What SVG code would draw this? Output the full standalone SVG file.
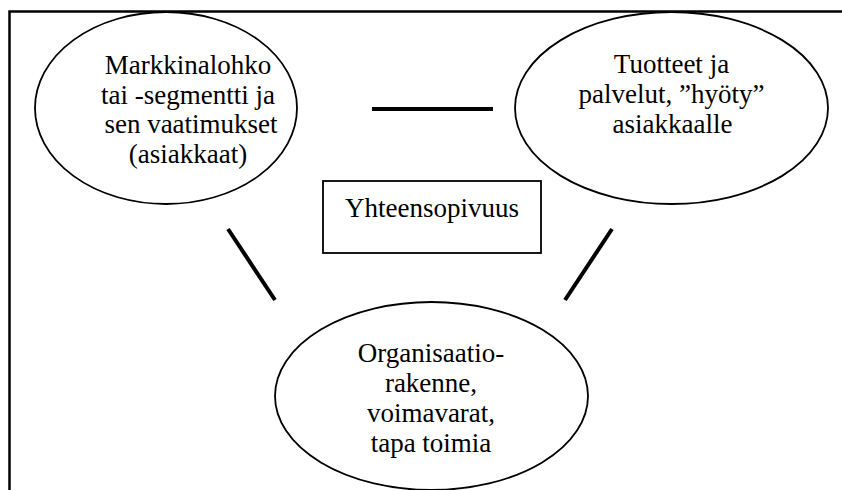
<svg xmlns="http://www.w3.org/2000/svg" width="842" height="490" viewBox="0 0 842 490">
<style>
.frame{stroke:#000;stroke-width:2.5;fill:none}
.node{fill:#fff;stroke:#000;stroke-width:1.8}
.conn{stroke:#000;stroke-width:4;stroke-linecap:butt}
.t{font-family:'Liberation Serif','Times New Roman',Times,serif;font-size:27px;fill:#000;text-anchor:middle}
</style>
<rect width="842" height="490" fill="#fff"/>
<path class="frame" d="M9.5 490 V11.5 H842"/>
<g id="connectors">
<line class="conn" x1="372" y1="109" x2="493" y2="109"/>
<line class="conn" x1="228" y1="229" x2="275" y2="300"/>
<line class="conn" x1="612" y1="229" x2="565" y2="300"/>
</g>
<g id="node-markkina">
<ellipse class="node" cx="166" cy="108" rx="131" ry="96"/>
<g class="t" font-family="Liberation Serif, serif">
<text x="188" y="74">Markkinalohko</text>
<text x="188" y="104">tai -segmentti ja</text>
<text x="191" y="133">sen vaatimukset</text>
<text x="188" y="163">(asiakkaat)</text>
</g>
</g>
<g id="node-tuotteet">
<ellipse class="node" cx="671.5" cy="108" rx="156.5" ry="96"/>
<g class="t" font-family="Liberation Serif, serif">
<text x="671.5" y="73">Tuotteet ja</text>
<text x="671.5" y="103">palvelut, ”hyöty”</text>
<text x="672.5" y="133">asiakkaalle</text>
</g>
</g>
<g id="node-yhteensopivuus">
<rect class="node" x="323" y="181" width="218" height="72"/>
<text class="t" x="432" y="217">Yhteensopivuus</text>
</g>
<g id="node-organisaatio">
<ellipse class="node" cx="431.5" cy="396" rx="156.5" ry="94"/>
<g class="t" font-family="Liberation Serif, serif">
<text x="431" y="362">Organisaatio-</text>
<text x="431" y="392">rakenne,</text>
<text x="431" y="422">voimavarat,</text>
<text x="431" y="452">tapa toimia</text>
</g>
</g>
</svg>
